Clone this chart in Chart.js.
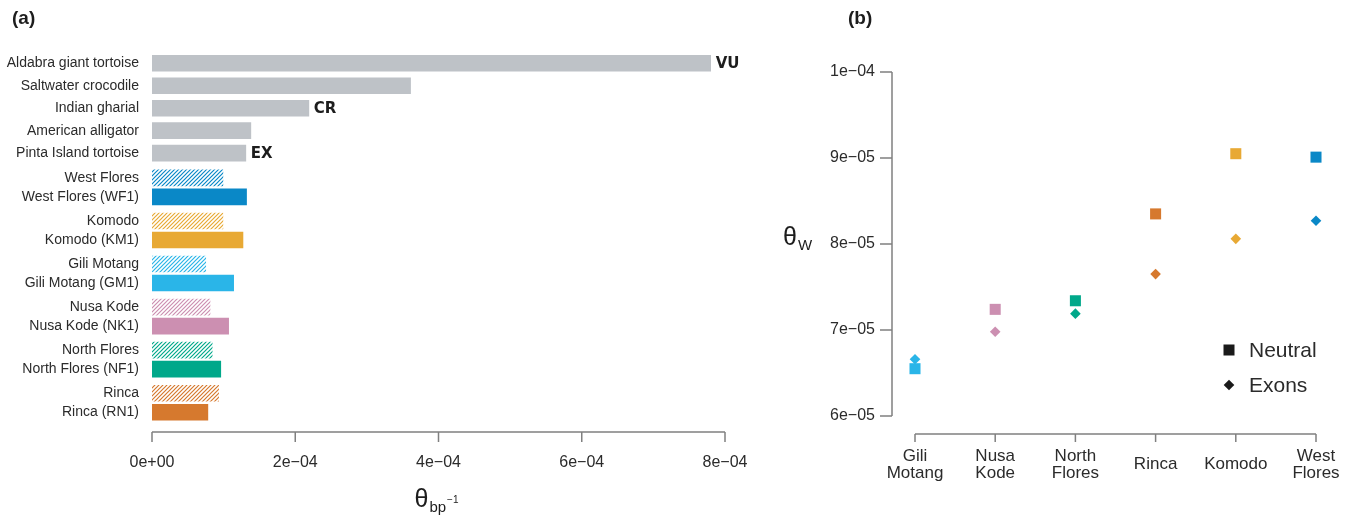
<!DOCTYPE html>
<html>
<head>
<meta charset="utf-8">
<script src="https://cdn.jsdelivr.net/npm/chart.js@4.4.1/dist/chart.umd.min.js"></script>
<style>
  body { margin: 0; background: #fff; }
  #wrap { position: relative; width: 1350px; height: 517px; }
  canvas { position: absolute; top: 0; }
  #thetaChart { left: 0; }
  #islandChart { left: 770px; }
</style>
</head>
<body>
<div id="wrap">
  <canvas id="thetaChart" width="770" height="517"></canvas>
  <canvas id="islandChart" width="580" height="517"></canvas>
</div>
<script>
// Panel (a): theta per bp for other reptiles, then Komodo populations / single samples
const otherSpecies = ['Aldabra giant tortoise', 'Saltwater crocodile', 'Indian gharial', 'American alligator', 'Pinta Island tortoise'];
const otherTheta = [7.80e-4, 3.61e-4, 2.19e-4, 1.38e-4, 1.31e-4];
const otherStatus = ['VU', '', 'CR', '', 'EX'];
const populations = ['West Flores', 'Komodo', 'Gili Motang', 'Nusa Kode', 'North Flores', 'Rinca'];
const sampleIds = ['WF1', 'KM1', 'GM1', 'NK1', 'NF1', 'RN1'];
const populationTheta = [0.99e-4, 0.99e-4, 0.75e-4, 0.81e-4, 0.84e-4, 0.93e-4];
const sampleTheta = [1.32e-4, 1.27e-4, 1.14e-4, 1.07e-4, 0.96e-4, 0.78e-4];
const thetaTicks = [0, 2e-4, 4e-4, 6e-4, 8e-4];

// Panel (b): Watterson's theta per island, neutral regions vs exons
const islands = [['Gili', 'Motang'], ['Nusa', 'Kode'], ['North', 'Flores'], 'Rinca', 'Komodo', ['West', 'Flores']];
const neutralTheta = [6.55e-5, 7.24e-5, 7.34e-5, 8.35e-5, 9.05e-5, 9.01e-5];
const exonTheta = [6.66e-5, 6.98e-5, 7.19e-5, 7.65e-5, 8.06e-5, 8.27e-5];
const wattersonTicks = [6e-5, 7e-5, 8e-5, 9e-5, 1e-4];

const popColors = {
  'West Flores': '#0a88c7',
  Komodo: '#e8a934',
  'Gili Motang': '#2ab5e8',
  'Nusa Kode': '#cc8fb1',
  'North Flores': '#00a88a',
  Rinca: '#d6792e',
};
const greyBar = '#bec2c7';
const axisGrey = '#808080';
const textColor = '#2b2b2b';

Chart.defaults.font.family = "'Liberation Sans', Arial, sans-serif";
Chart.defaults.color = textColor;

// R style number labels, e.g. 2e-04
const sci = (v) => {
  const [m, e] = Number(v).toExponential(0).split('e');
  const n = parseInt(e, 10);
  return m + 'e' + (n < 0 ? '\u2212' : '+') + String(Math.abs(n)).padStart(2, '0');
};

const thetaCanvas = document.getElementById('thetaChart');

// diagonal hatch fill for the population bars
const hatch = (color) => {
  const tile = document.createElement('canvas');
  tile.width = tile.height = 4;
  const g = tile.getContext('2d');
  g.fillStyle = '#ffffff';
  g.fillRect(0, 0, 4, 4);
  g.strokeStyle = color;
  g.lineWidth = 1.2;
  g.beginPath();
  g.moveTo(-1, 5); g.lineTo(5, -1);
  g.moveTo(-1, 1); g.lineTo(1, -1);
  g.moveTo(3, 5); g.lineTo(5, 3);
  g.stroke();
  return thetaCanvas.getContext('2d').createPattern(tile, 'repeat');
};

// row layout: grey rows one step apart, then each population above its sample
const greyRows = otherSpecies.map((_, i) => i);
const popRows = populations.map((_, j) => 5.1 + 1.915 * j);
const sampleRows = popRows.map((r) => r + 0.845);
const rowValues = [...greyRows];
const rowLabels = [...otherSpecies];
populations.forEach((p, j) => {
  rowValues.push(popRows[j], sampleRows[j]);
  rowLabels.push(p, `${p} (${sampleIds[j]})`);
});

// axis line running only between first and last tick, like base R
const rAxes = {
  id: 'rAxes',
  afterDraw(chart, args, opts) {
    const { ctx, chartArea: area } = chart;
    ctx.save();
    ctx.strokeStyle = axisGrey;
    ctx.lineWidth = 1.5;
    opts.axes.forEach((a) => {
      const scale = chart.scales[a.id];
      const n = scale.ticks.length;
      const first = scale.getPixelForTick(0);
      const last = scale.getPixelForTick(n - 1);
      ctx.beginPath();
      if (scale.isHorizontal()) {
        const y = area.bottom + a.offset;
        ctx.moveTo(first, y);
        ctx.lineTo(last, y);
        for (let i = 0; i < n; i++) {
          const x = scale.getPixelForTick(i);
          ctx.moveTo(x, y);
          ctx.lineTo(x, y + a.len);
        }
      } else {
        const x = area.left - a.offset;
        ctx.moveTo(x, first);
        ctx.lineTo(x, last);
        for (let i = 0; i < n; i++) {
          const y = scale.getPixelForTick(i);
          ctx.moveTo(x, y);
          ctx.lineTo(x - a.len, y);
        }
      }
      ctx.stroke();
    });
    ctx.restore();
  },
};

// theta with subscript (and optional superscript)
const drawTheta = (ctx, x, y, sub, sup) => {
  ctx.font = "25px 'Liberation Sans'";
  const wt = ctx.measureText('\u03b8').width;
  ctx.font = "15px 'Liberation Sans'";
  const ws = ctx.measureText(sub).width;
  ctx.font = "25px 'Liberation Sans'";
  ctx.fillText('\u03b8', x, y);
  ctx.font = "15px 'Liberation Sans'";
  ctx.fillText(sub, x + wt + 1, y + 5);
  if (sup) {
    ctx.font = "10px 'Liberation Sans'";
    ctx.fillText(sup, x + wt + ws + 2, y - 4);
  }
};

const panelA = {
  id: 'panelA',
  afterDatasetsDraw(chart) {
    const ctx = chart.ctx;
    const meta = chart.getDatasetMeta(0);
    ctx.save();
    ctx.fillStyle = '#1d1d1d';
    ctx.font = "bold 15px 'DejaVu Sans'";
    ctx.textBaseline = 'middle';
    meta.data.forEach((bar, i) => {
      if (otherStatus[i]) ctx.fillText(otherStatus[i], bar.x + 5, bar.y + 1);
    });
    ctx.restore();
  },
  afterDraw(chart) {
    const { ctx, chartArea: area } = chart;
    ctx.save();
    ctx.fillStyle = '#1d1d1d';
    ctx.textBaseline = 'alphabetic';
    ctx.font = "bold 19px 'Liberation Sans'";
    ctx.fillText('(a)', 12, 24);
    drawTheta(ctx, (area.left + area.right) / 2 - 24, 507, 'bp', '\u22121');
    ctx.restore();
  },
};

const panelB = {
  id: 'panelB',
  afterDraw(chart) {
    const { ctx, chartArea: area } = chart;
    ctx.save();
    ctx.fillStyle = '#1d1d1d';
    ctx.textBaseline = 'alphabetic';
    ctx.font = "bold 19px 'Liberation Sans'";
    ctx.fillText('(b)', 78, 24);
    drawTheta(ctx, 13, 245, 'W');

    // legend
    const lx = area.right - 87;
    const ly = [area.top + 278, area.top + 313];
    ctx.fillStyle = '#1a1a1a';
    ctx.fillRect(lx - 5.5, ly[0] - 5.5, 11, 11);
    ctx.beginPath();
    ctx.moveTo(lx, ly[1] - 5.3);
    ctx.lineTo(lx + 5.3, ly[1]);
    ctx.lineTo(lx, ly[1] + 5.3);
    ctx.lineTo(lx - 5.3, ly[1]);
    ctx.closePath();
    ctx.fill();
    ctx.fillStyle = textColor;
    ctx.font = "21px 'Liberation Sans'";
    ctx.textBaseline = 'middle';
    ctx.fillText('Neutral', lx + 20, ly[0] + 1);
    ctx.fillText('Exons', lx + 20, ly[1] + 1);
    ctx.restore();
  },
};

new Chart(thetaCanvas, {
  type: 'bar',
  data: {
    datasets: [
      {
        data: otherTheta.map((v, i) => ({ x: v, y: greyRows[i] })),
        backgroundColor: greyBar,
      },
      {
        data: populationTheta.map((v, j) => ({ x: v, y: popRows[j] })),
        backgroundColor: populations.map((p) => hatch(popColors[p])),
      },
      {
        data: sampleTheta.map((v, j) => ({ x: v, y: sampleRows[j] })),
        backgroundColor: populations.map((p) => popColors[p]),
      },
    ],
  },
  options: {
    responsive: false,
    animation: false,
    indexAxis: 'y',
    grouped: false,
    barThickness: 16,
    borderWidth: 0,
    layout: { padding: { top: 52, right: 45, left: 0, bottom: 0 } },
    plugins: {
      legend: { display: false },
      tooltip: { enabled: false },
      rAxes: { axes: [{ id: 'x', offset: 9, len: 10 }] },
    },
    scales: {
      x: {
        type: 'linear',
        min: 0,
        max: 8e-4,
        afterBuildTicks: (s) => { s.ticks = thetaTicks.map((v) => ({ value: v })); },
        afterFit: (s) => { s.height = 94; },
        // tick marks hidden, tickLength only pushes the labels down
        grid: { display: false, drawTicks: true, tickLength: 30 },
        border: { display: false },
        ticks: { padding: 0, maxRotation: 0, color: textColor, font: { size: 16 }, callback: (v) => sci(v) },
      },
      y: {
        type: 'linear',
        reverse: true,
        offset: false,
        min: -0.5,
        max: 16,
        afterBuildTicks: (s) => { s.ticks = rowValues.map((v) => ({ value: v })); },
        afterFit: (s) => { s.width = 152; },
        grid: { display: false, drawTicks: false },
        border: { display: false },
        ticks: { autoSkip: false, padding: 13, color: textColor, font: { size: 14 }, callback: (v, i) => rowLabels[i] },
      },
    },
  },
  plugins: [rAxes, panelA],
});

const islandColors = islands.map((l) => popColors[Array.isArray(l) ? l.join(' ') : l]);

new Chart(document.getElementById('islandChart'), {
  type: 'line',
  data: {
    labels: islands,
    datasets: [
      {
        label: 'Neutral',
        data: neutralTheta,
        showLine: false,
        clip: false,
        pointStyle: 'rect',
        pointRadius: 7.8,
        pointBorderWidth: 0,
        pointBackgroundColor: islandColors,
      },
      {
        label: 'Exons',
        data: exonTheta,
        showLine: false,
        clip: false,
        pointStyle: 'rectRot',
        pointRadius: 5.3,
        pointBorderWidth: 0,
        pointBackgroundColor: islandColors,
      },
    ],
  },
  options: {
    responsive: false,
    animation: false,
    layout: { padding: { top: 72, right: 34, left: 0, bottom: 0 } },
    plugins: {
      legend: { display: false },
      tooltip: { enabled: false },
      rAxes: { axes: [{ id: 'x', offset: 18, len: 8 }, { id: 'y', offset: 23, len: 12 }] },
    },
    scales: {
      x: {
        offset: false,
        afterFit: (s) => { s.height = 101; },
        grid: { display: false, drawTicks: true, tickLength: 40 },
        border: { display: false },
        ticks: { padding: 0, maxRotation: 0, autoSkip: false, crossAlign: 'center', color: textColor, font: { size: 17, lineHeight: 1.0 } },
      },
      y: {
        type: 'linear',
        min: 6e-5,
        max: 1e-4,
        afterBuildTicks: (s) => { s.ticks = wattersonTicks.map((v) => ({ value: v })); },
        afterFit: (s) => { s.width = 145; },
        grid: { display: false, drawTicks: false },
        border: { display: false },
        ticks: { padding: 40, color: textColor, font: { size: 16 }, callback: (v) => sci(v) },
      },
    },
  },
  plugins: [rAxes, panelB],
});
</script>
</body>
</html>
